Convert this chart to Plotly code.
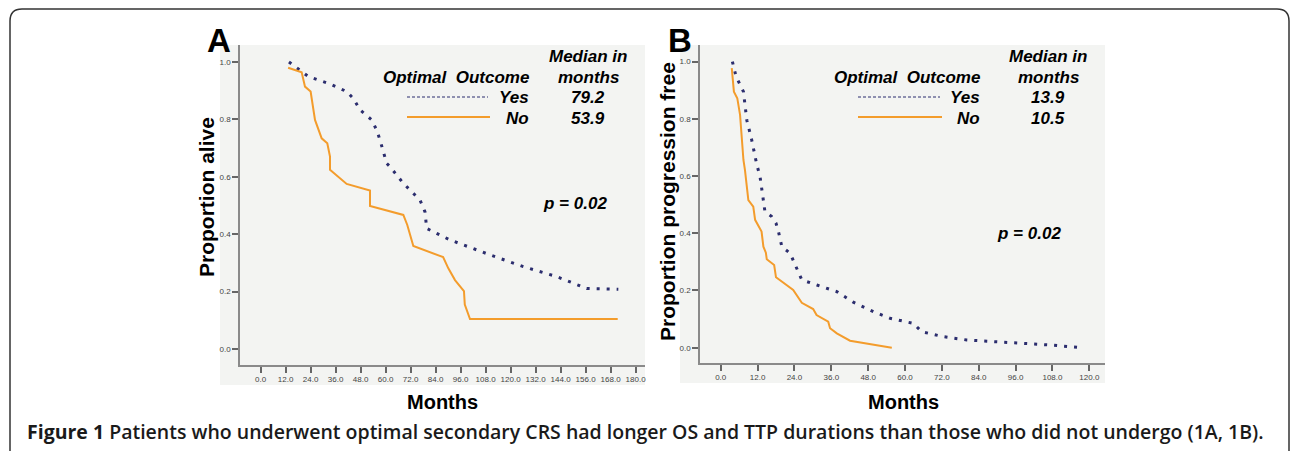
import plotly.graph_objects as go

# ---------------- data ----------------
a_yes_months = [13.6, 22.9, 33.3, 41.3, 44.5, 47.7, 53.3, 55.7, 57.3, 60.5, 62.1, 68.5, 76.5, 78.9, 79.7, 90.9, 110.1, 126.1, 142.1, 156.5, 171.7]
a_yes_prop = [1.0, 0.949, 0.923, 0.897, 0.873, 0.833, 0.798, 0.763, 0.728, 0.647, 0.635, 0.577, 0.519, 0.478, 0.42, 0.380, 0.328, 0.287, 0.252, 0.211, 0.208]
a_no_months = [13.2, 19.7, 21.3, 24.0, 26.1, 29.3, 32.0, 33.3, 33.3, 41.3, 52.5, 52.5, 68.5, 70.4, 73.3, 87.6, 90.1, 93.3, 97.6, 98.0, 100.5, 171.4]
a_no_prop = [0.980, 0.964, 0.914, 0.897, 0.798, 0.734, 0.717, 0.670, 0.624, 0.575, 0.552, 0.498, 0.467, 0.432, 0.359, 0.320, 0.281, 0.240, 0.202, 0.155, 0.1045, 0.1045]

b_yes_months = [3.8, 5.0, 7.4, 8.5, 10.1, 11.7, 12.8, 13.9, 14.4, 16.6, 18.0, 18.8, 19.9, 22.6, 23.6, 25.3, 26.4, 31.3, 37.8, 43.0, 49.7, 55.1, 62.7, 65.4, 72.5, 80.1, 96.4, 107.2, 117.5]
b_yes_prop = [1.0, 0.948, 0.895, 0.795, 0.726, 0.642, 0.598, 0.505, 0.476, 0.458, 0.435, 0.406, 0.353, 0.330, 0.307, 0.266, 0.237, 0.219, 0.196, 0.160, 0.126, 0.103, 0.085, 0.056, 0.0385, 0.027, 0.0175, 0.0094, 0.0]
b_no_months = [3.6, 4.3, 5.4, 6.3, 7.4, 7.9, 9.0, 10.6, 11.2, 13.3, 13.9, 14.7, 15.0, 17.4, 18.0, 23.6, 26.4, 30.1, 31.2, 35.0, 35.6, 37.8, 42.1, 55.7]
b_no_prop = [0.977, 0.895, 0.872, 0.814, 0.656, 0.621, 0.516, 0.493, 0.447, 0.406, 0.353, 0.332, 0.309, 0.289, 0.246, 0.202, 0.157, 0.135, 0.114, 0.091, 0.068, 0.050, 0.0245, 0.0]

a_xticks = [0, 12, 24, 36, 48, 60, 72, 84, 96, 108, 120, 132, 144, 156, 168, 180]
b_xticks = [0, 12, 24, 36, 48, 60, 72, 84, 96, 108, 120]
y_ticks = [0.0, 0.2, 0.4, 0.6, 0.8, 1.0]

a_medians = ["79.2", "53.9"]
b_medians = ["13.9", "10.5"]
p_value = "p = 0.02"
caption = ("<b>Figure 1</b> Patients who underwent optimal secondary CRS had longer OS and TTP "
           "durations than those who did not undergo (1A, 1B).")

# ---------------- style ----------------
W, H = 1292, 451
NAVY = "#2b2d6e"
ORANGE = "#f39c2c"
BG = "#f3f4f2"
AX = "#8a8a8a"
FONT = "Liberation Sans, Arial, sans-serif"


def px(x):
    return x / W


def py(y):
    return 1 - y / H


fig = go.Figure()

fig.add_trace(go.Scatter(x=a_yes_months, y=a_yes_prop, mode="lines", xaxis="x", yaxis="y",
                         line=dict(color=NAVY, width=3, dash="3px,7px"), showlegend=False))
fig.add_trace(go.Scatter(x=a_no_months, y=a_no_prop, mode="lines", xaxis="x", yaxis="y",
                         line=dict(color=ORANGE, width=2), showlegend=False))
fig.add_trace(go.Scatter(x=b_yes_months, y=b_yes_prop, mode="lines", xaxis="x2", yaxis="y2",
                         line=dict(color=NAVY, width=3, dash="3px,7px"), showlegend=False))
fig.add_trace(go.Scatter(x=b_no_months, y=b_no_prop, mode="lines", xaxis="x2", yaxis="y2",
                         line=dict(color=ORANGE, width=2), showlegend=False))

axis_common = dict(showgrid=False, zeroline=False, showline=True, linecolor=AX, linewidth=1.5,
                   ticks="outside", ticklen=6, tickwidth=1.5, tickcolor="#666",
                   tickfont=dict(family=FONT, size=8, color="#444"), fixedrange=True)

fig.update_layout(
    width=W, height=H, margin=dict(l=0, r=0, t=0, b=0),
    paper_bgcolor="white", plot_bgcolor=BG,
    xaxis=dict(domain=[px(240), px(645)], range=[-9.9, 184.5], anchor="y",
               tickvals=a_xticks, ticktext=[f"{v:.1f}" for v in a_xticks], **axis_common),
    yaxis=dict(domain=[py(365), py(45)], range=[-0.0557, 1.059], anchor="x",
               tickvals=y_ticks, ticktext=[f"{v:.1f}" for v in y_ticks], **axis_common),
    xaxis2=dict(domain=[px(700), px(1105)], range=[-6.74, 125.1], anchor="y2",
                tickvals=b_xticks, ticktext=[f"{v:.1f}" for v in b_xticks], **axis_common),
    yaxis2=dict(domain=[py(363), py(45)], range=[-0.0535, 1.058], anchor="x2",
                tickvals=y_ticks, ticktext=[f"{v:.1f}" for v in y_ticks], **axis_common),
)

shapes = []
# grey panel backgrounds
for (x0, x1, y1) in [(220, 645, 385), (680, 1105, 383)]:
    shapes.append(dict(type="rect", xref="paper", yref="paper", x0=px(x0), x1=px(x1),
                       y0=py(y1), y1=py(45), fillcolor=BG, line=dict(width=0), layer="below"))
# legend sample lines
for (x0, x1) in [(407, 488), (858, 940)]:
    shapes.append(dict(type="line", xref="paper", yref="paper", x0=px(x0), x1=px(x1),
                       y0=py(97), y1=py(97), line=dict(color=NAVY, width=1, dash="3px,2px")))
    shapes.append(dict(type="line", xref="paper", yref="paper", x0=px(x0), x1=px(x1 + 2),
                       y0=py(117), y1=py(117), line=dict(color=ORANGE, width=2)))
# outer rounded frame (open at bottom)
r = 12
L, R, T = 10, 1289, 9
path = (f"M {px(L)},{py(H)} L {px(L)},{py(T + r)} Q {px(L)},{py(T)} {px(L + r)},{py(T)} "
        f"L {px(R - r)},{py(T)} Q {px(R)},{py(T)} {px(R)},{py(T + r)} L {px(R)},{py(H)}")
shapes.append(dict(type="path", xref="paper", yref="paper", path=path,
                   line=dict(color="#333", width=1.5)))
fig.update_layout(shapes=shapes)

ann = []


def text(x, y, s, size, xanchor="center", bold=True, italic=False, angle=0, color="black", family=FONT):
    t = s
    if italic:
        t = f"<i>{t}</i>"
    if bold:
        t = f"<b>{t}</b>"
    ann.append(dict(x=px(x), y=py(y), xref="paper", yref="paper", text=t, showarrow=False,
                    xanchor=xanchor, yanchor="middle", textangle=angle,
                    font=dict(family=family, size=size, color=color)))


# panel letters
text(218.5, 40, "A", 33)
text(680, 40, "B", 33)
# axis titles
text(207, 197, "Proportion alive", 21, angle=-90)
text(667, 202, "Proportion progression free", 21, angle=-90)
text(442, 402, "Months", 20)
text(903, 402, "Months", 20)

# legend blocks
for (xr, xm, meds) in [(531, 588, a_medians), (982, 1048, b_medians)]:
    text(xr, 77, "Optimal\u00a0 Outcome", 17, xanchor="right", italic=True)
    text(xm, 57, "Median in", 17, italic=True)
    text(xm, 77, "months", 17, italic=True)
    text(xr, 97, "Yes", 17, xanchor="right", italic=True)
    text(xr, 118, "No", 17, xanchor="right", italic=True)
    text(xm, 97, meds[0], 17, italic=True)
    text(xm, 118, meds[1], 17, italic=True)

text(575, 203, p_value, 17, italic=True)
text(1029, 234, p_value, 17, italic=True)

# caption
ann.append(dict(x=px(25), y=py(431), xref="paper", yref="paper", text=caption, showarrow=False,
                xanchor="left", yanchor="middle",
                font=dict(family="Open Sans, Noto Sans, sans-serif", size=19.5, color="#1a1a1a", weight=600)))

fig.update_layout(annotations=ann)

fig.write_html("out.html", config={"displayModeBar": False},
               post_script="document.body.style.margin='0px';document.body.style.overflow='hidden';")
